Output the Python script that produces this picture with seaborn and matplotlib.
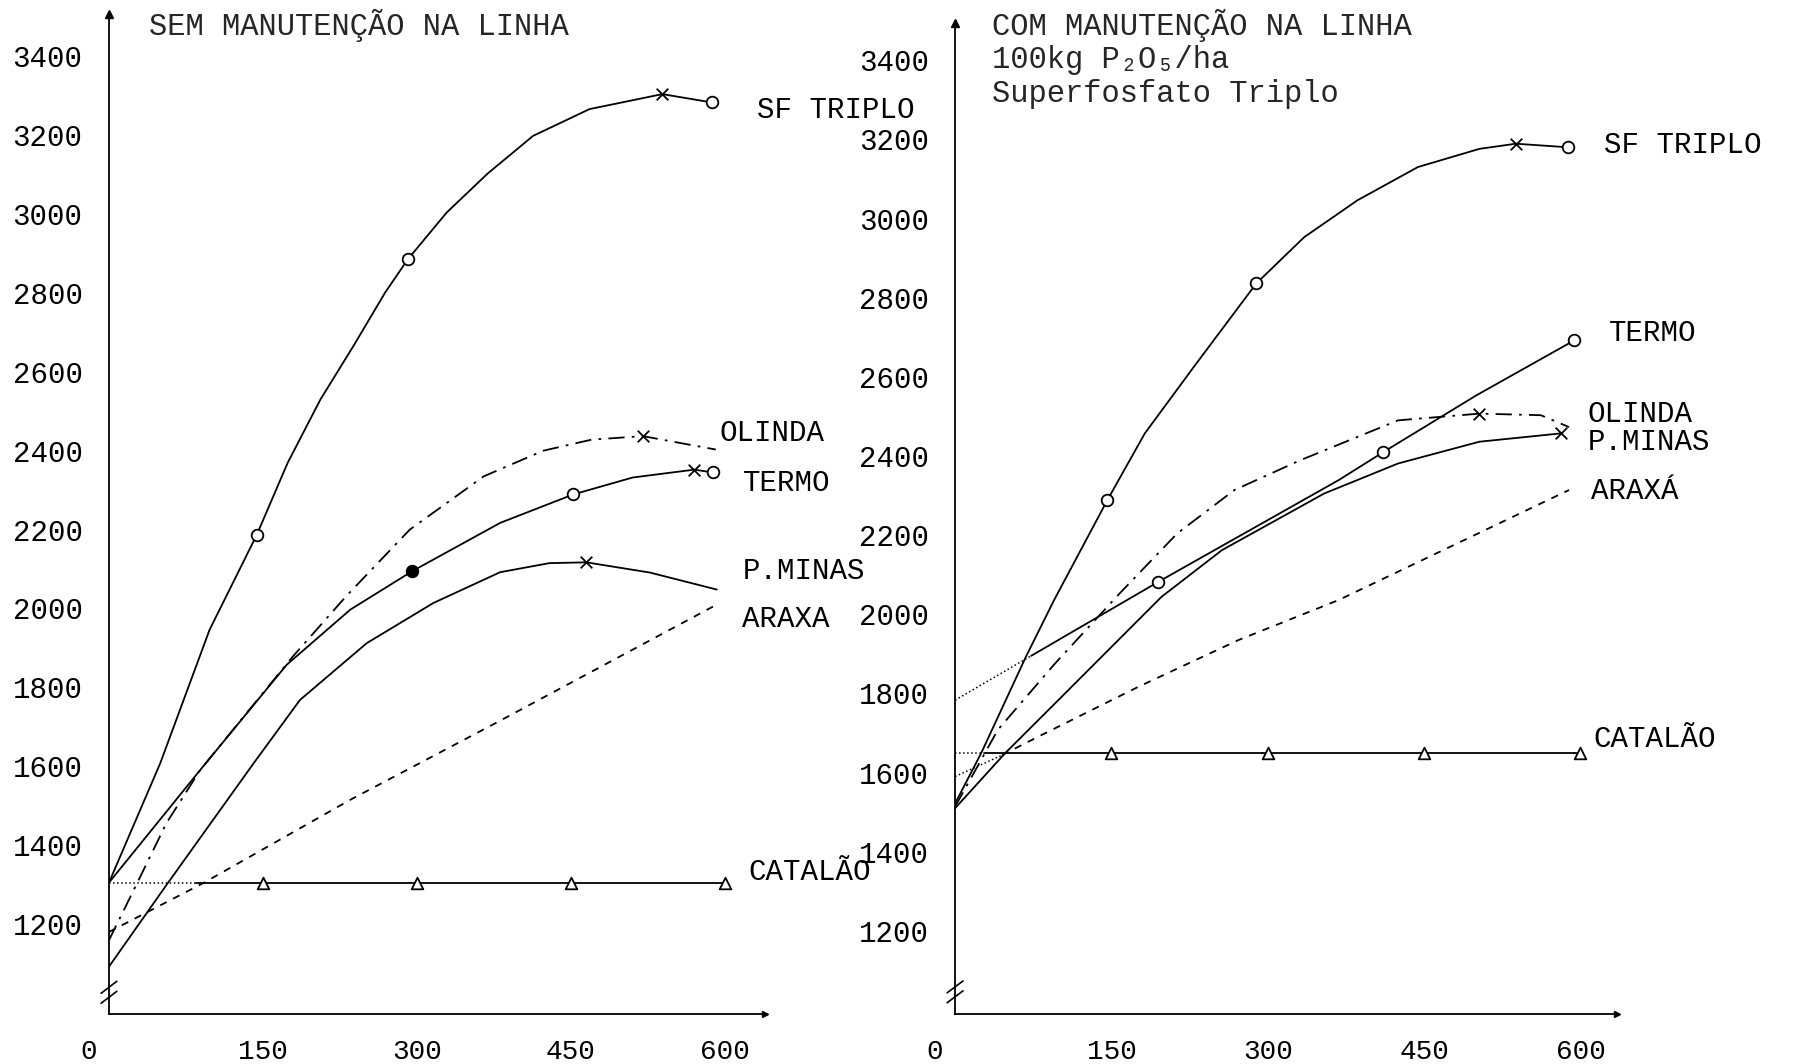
import matplotlib
matplotlib.use("Agg")
import matplotlib.pyplot as plt
import matplotlib.transforms as mtransforms
import seaborn as sns

sns.set_theme(style="white")
plt.rcParams["font.family"] = ["Liberation Mono", "DejaVu Sans Mono"]

# tick values
x_ticks = [0, 150, 300, 450, 600]
y_ticks = [1200, 1400, 1600, 1800, 2000, 2200, 2400, 2600, 2800, 3000, 3200, 3400]

# ---- SEM MANUTENCAO (left panel)
sem_sf_x = [0, 50, 98, 144, 174, 206, 238, 269, 291, 329, 369, 413, 468, 539, 587]
sem_sf_y = [1305, 1608, 1946, 2187, 2369, 2530, 2665, 2801, 2885, 3004, 3103, 3198, 3266, 3304, 3283]
sem_sf_o_x = [144, 291, 587]
sem_sf_o_y = [2187, 2885, 3283]
sem_sf_x_x = [539]
sem_sf_x_y = [3304]

sem_olinda_x = [0, 22, 56, 89, 179, 231, 293, 365, 423, 470, 520, 591]
sem_olinda_y = [1159, 1275, 1456, 1591, 1878, 2031, 2200, 2335, 2400, 2428, 2437, 2403]
sem_olinda_x_x = [520]
sem_olinda_x_y = [2437]

sem_termo_x = [0, 89, 173, 235, 295, 381, 452, 510, 570, 588]
sem_termo_y = [1305, 1591, 1857, 1997, 2094, 2217, 2289, 2332, 2352, 2345]
sem_termo_o_x = [452, 588]
sem_termo_o_y = [2289, 2345]
sem_termo_dot_x = [295]
sem_termo_dot_y = [2094]
sem_termo_x_x = [570]
sem_termo_x_y = [2352]

sem_pminas_x = [0, 56, 141, 186, 251, 316, 381, 429, 465, 527, 592]
sem_pminas_y = [1092, 1299, 1608, 1768, 1912, 2014, 2092, 2115, 2117, 2091, 2048]
sem_pminas_x_x = [465]
sem_pminas_x_y = [2117]

sem_araxa_x = [0, 92, 235, 377, 592]
sem_araxa_y = [1180, 1304, 1515, 1710, 2010]

sem_catalao_x = [0, 85, 600]
sem_catalao_y = [1305, 1305, 1305]
sem_catalao_t_x = [150, 300, 450, 600]
sem_catalao_t_y = [1305, 1305, 1305, 1305]

# ---- COM MANUTENCAO (right panel)
com_sf_x = [0, 25, 68, 95, 146, 182, 229, 289, 335, 386, 444, 503, 538, 588]
com_sf_y = [1522, 1649, 1893, 2036, 2288, 2457, 2625, 2836, 2953, 3046, 3130, 3176, 3189, 3180]
com_sf_o_x = [146, 289, 588]
com_sf_o_y = [2288, 2836, 3180]
com_sf_x_x = [538]
com_sf_x_y = [3189]

com_termo_x = [0, 73, 195, 368, 411, 500, 594]
com_termo_y = [1783, 1895, 2082, 2339, 2410, 2553, 2692]
com_termo_o_x = [195, 411, 594]
com_termo_o_y = [2082, 2410, 2692]

com_olinda_x = [0, 41, 96, 158, 213, 268, 331, 425, 503, 562, 589]
com_olinda_y = [1514, 1708, 1876, 2053, 2204, 2314, 2389, 2490, 2507, 2503, 2473]
com_olinda_x_x = [503]
com_olinda_x_y = [2507]

com_pminas_x = [0, 48, 99, 198, 256, 354, 425, 503, 581]
com_pminas_y = [1510, 1649, 1783, 2044, 2162, 2305, 2381, 2436, 2457]
com_pminas_x_x = [581]
com_pminas_x_y = [2457]

com_araxa_x = [0, 45, 80, 176, 272, 368, 589]
com_araxa_y = [1590, 1644, 1691, 1817, 1935, 2036, 2314]

com_catalao_x = [0, 29, 600]
com_catalao_y = [1650, 1650, 1650]
com_catalao_t_x = [150, 300, 450, 600]
com_catalao_t_y = [1650, 1650, 1650, 1650]

DASHDOT = (0, (9, 4, 1.5, 4))
DASHED = (0, (4, 4))


def curve(ax, xs, ys, ls="-", lead=0):
    # optional dotted lead-in segment, as drawn near the y axis
    if lead:
        sns.lineplot(x=xs[:lead + 1], y=ys[:lead + 1], ax=ax, color="black",
                     lw=1.1, linestyle=":", sort=False, estimator=None)
    sns.lineplot(x=xs[lead:], y=ys[lead:], ax=ax, color="black", lw=1.3,
                 linestyle=ls, sort=False, estimator=None)


def marks(ax, xs, ys, marker, fill="white"):
    if marker == "x":
        sns.scatterplot(x=xs, y=ys, ax=ax, marker="x", s=70, color="black",
                        linewidth=1.3, zorder=5)
    else:
        sns.scatterplot(x=xs, y=ys, ax=ax, marker=marker, s=70, facecolor=fill,
                        edgecolor="black", linewidth=1.3, zorder=5)


def label(ax, x, y, text):
    ax.text(x, y, text, ha="left", va="center", fontsize=21, color="black",
            clip_on=False)


def frame(ax, xmax, ymin, ymax, brk):
    ax.set_xlim(0, xmax)
    ax.set_ylim(ymin, ymax)
    sns.despine(ax=ax)
    for s in ("left", "bottom"):
        ax.spines[s].set_color("black")
        ax.spines[s].set_linewidth(1.3)
    ax.set_xticks(x_ticks, [str(v) for v in x_ticks])
    ax.set_yticks(y_ticks, [str(v) for v in y_ticks])
    ax.tick_params(axis="x", direction="inout", length=8, width=1.1,
                   labelsize=20, pad=14, colors="black")
    ax.tick_params(axis="y", direction="out", length=3, width=1.5,
                   labelsize=21, pad=16, colors="black")
    ax.set_xlabel("")
    ax.set_ylabel("")
    # shift the "0" label left of the origin like in the scan
    lab0 = ax.get_xticklabels()[0]
    lab0.set_transform(lab0.get_transform() +
                       mtransforms.ScaledTranslation(-0.2, 0, ax.figure.dpi_scale_trans))
    # arrow heads
    ax.plot(0, 1, marker="^", ms=6, color="black", transform=ax.transAxes, clip_on=False)
    ax.plot(1, 0, marker=">", ms=5, color="black", transform=ax.transAxes, clip_on=False)
    # axis break marks
    yb = (brk - ymin) / (ymax - ymin)
    for dy in (-0.005, 0.005):
        ax.plot([-0.012, 0.012], [yb + dy - 0.006, yb + dy + 0.006],
                transform=ax.transAxes, color="black", lw=1.2, clip_on=False)


fig = plt.figure(figsize=(17.98, 10.64), dpi=100)
ax1 = fig.add_axes([0.0606, 0.047, 0.3649, 0.9398])
ax2 = fig.add_axes([0.5312, 0.047, 0.3681, 0.931])

# left panel
curve(ax1, sem_sf_x, sem_sf_y)
curve(ax1, sem_olinda_x, sem_olinda_y, ls=DASHDOT)
curve(ax1, sem_termo_x, sem_termo_y)
curve(ax1, sem_pminas_x, sem_pminas_y)
curve(ax1, sem_araxa_x, sem_araxa_y, ls=DASHED)
curve(ax1, sem_catalao_x, sem_catalao_y, lead=1)
marks(ax1, sem_sf_o_x, sem_sf_o_y, "o")
marks(ax1, sem_sf_x_x, sem_sf_x_y, "x")
marks(ax1, sem_olinda_x_x, sem_olinda_x_y, "x")
marks(ax1, sem_termo_o_x, sem_termo_o_y, "o")
marks(ax1, sem_termo_dot_x, sem_termo_dot_y, "o", fill="black")
marks(ax1, sem_termo_x_x, sem_termo_x_y, "x")
marks(ax1, sem_pminas_x_x, sem_pminas_x_y, "x")
marks(ax1, sem_catalao_t_x, sem_catalao_t_y, "^")
frame(ax1, 639, 972, 3507, 1027)
label(ax1, 631, 3263, "SF TRIPLO")
label(ax1, 595, 2445, "OLINDA")
label(ax1, 617, 2317, "TERMO")
label(ax1, 617, 2096, "P.MINAS")
label(ax1, 617, 1974, "ARAXA")
label(ax1, 623, 1333, "CATALÃO")

# right panel
curve(ax2, com_sf_x, com_sf_y)
curve(ax2, com_termo_x, com_termo_y, lead=1)
curve(ax2, com_olinda_x, com_olinda_y, ls=DASHDOT)
curve(ax2, com_pminas_x, com_pminas_y)
curve(ax2, com_araxa_x, com_araxa_y, ls=DASHED, lead=1)
curve(ax2, com_catalao_x, com_catalao_y, lead=1)
marks(ax2, com_sf_o_x, com_sf_o_y, "o")
marks(ax2, com_sf_x_x, com_sf_x_y, "x")
marks(ax2, com_termo_o_x, com_termo_o_y, "o")
marks(ax2, com_olinda_x_x, com_olinda_x_y, "x")
marks(ax2, com_pminas_x_x, com_pminas_x_y, "x")
marks(ax2, com_catalao_t_x, com_catalao_t_y, "^")
frame(ax2, 635, 990, 3493, 1046)
label(ax2, 623, 3186, "SF TRIPLO")
label(ax2, 627, 2711, "TERMO")
label(ax2, 607, 2507, "OLINDA")
label(ax2, 607, 2436, "P.MINAS")
label(ax2, 610, 2311, "ARAXÁ")
label(ax2, 612, 1686, "CATALÃO")

# titles
fig.text(0.0829, 0.9765, "SEM MANUTENÇÃO NA LINHA", ha="left", va="center", fontsize=22)
fig.text(0.5517, 0.9765, "COM MANUTENÇÃO NA LINHA", ha="left", va="center", fontsize=22)
fig.text(0.5517, 0.9436, "100kg P₂O₅/ha", ha="left", va="center", fontsize=22)
fig.text(0.5517, 0.9117, "Superfosfato Triplo", ha="left", va="center", fontsize=22)

fig.savefig("out.png", dpi=100, facecolor="white")
